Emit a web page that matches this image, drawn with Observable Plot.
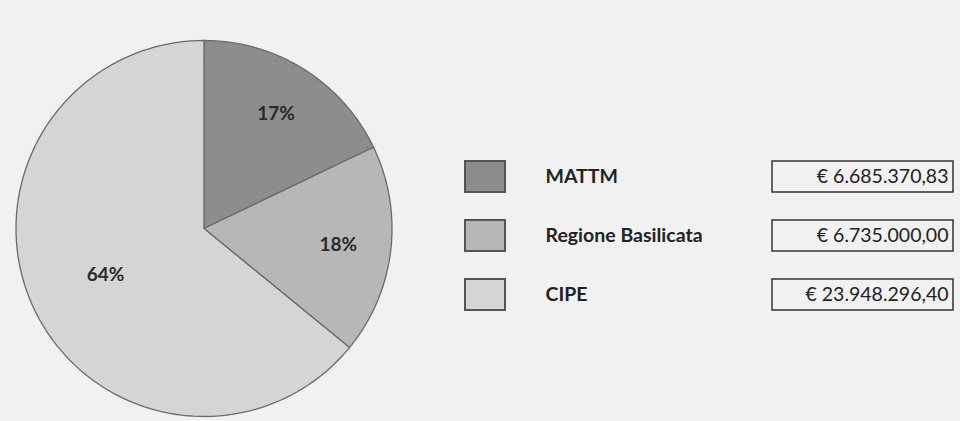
<!DOCTYPE html>
<html>
<head>
<meta charset="utf-8">
<script src="https://cdn.jsdelivr.net/npm/d3@7"></script>
<script src="https://cdn.jsdelivr.net/npm/@observablehq/plot@0.6"></script>
<style>
  html, body { margin: 0; padding: 0; background: #f1f1f1; }
  #chart { display: flex; flex-direction: row; width: 960px; height: 421px; }
  svg { background: transparent !important; }
</style>
</head>
<body>
<div id="chart"></div>
<script>
// ---- data ----
const names = ["MATTM", "Regione Basilicata", "CIPE"];
const amounts = [6685370.83, 6735000.00, 23948296.40];
const amountLabels = ["€ 6.685.370,83", "€ 6.735.000,00", "€ 23.948.296,40"];
const percentLabels = ["17%", "18%", "64%"];
const colors = ["#8d8d8d", "#b7b7b7", "#d5d5d5"];

// ---- derived pie geometry (from the values) ----
const pie = d3.pie().sort(null).value(d => d.amount);
const rows = names.map((name, i) => ({name, amount: amounts[i], amountLabel: amountLabels[i], pct: percentLabels[i]}));
const arcs = pie(rows);
const steps = 120;
const polyPoints = [];
arcs.forEach(a => {
  polyPoints.push({name: a.data.name, x: 0, y: 0});
  for (let k = 0; k <= steps; k++) {
    const t = a.startAngle + (a.endAngle - a.startAngle) * k / steps;
    polyPoints.push({name: a.data.name, x: Math.sin(t), y: Math.cos(t)});
  }
});
// label radius: small slices further out, big slice nearer the centre (Excel best-fit look)
const labels = arcs.map(a => {
  const m = (a.startAngle + a.endAngle) / 2;
  const share = (a.endAngle - a.startAngle) / (2 * Math.PI);
  const r = share > 0.5 ? 0.58 : 0.72;
  return {name: a.data.name, pct: a.data.pct, x: r * Math.sin(m), y: r * Math.cos(m)};
});

const font = "Lato, 'Open Sans', 'DejaVu Sans', sans-serif";
const colorScale = {domain: names, range: colors};

// pie: center at (203.5, 228), radius 188 px
const R = 188, cx = 203.5, cy = 228, W1 = 420, H = 421;
const piePlot = Plot.plot({
  width: W1, height: H,
  margin: 0,
  x: {domain: [-cx / R, (W1 - cx) / R], axis: null},
  y: {domain: [-(H - cy) / R, cy / R], axis: null},
  color: colorScale,
  style: {fontFamily: font, background: "transparent"},
  marks: [
    Plot.line(polyPoints, {x: "x", y: "y", z: "name", fill: "name", stroke: "#6a6a6a", strokeWidth: 1.3, curve: "linear-closed"}),
    Plot.text(labels, {x: "x", y: "y", text: "pct", fontSize: 19, fontWeight: 700, fill: "#2a2a2a"})
  ]
});

// legend
const W2 = 960 - W1;
const legendPlot = Plot.plot({
  width: W2, height: H,
  marginTop: 146.5, marginBottom: 97.5, marginLeft: 0, marginRight: 0,
  x: {domain: [0, W2], axis: null},
  y: {domain: names, type: "band", paddingInner: 0.48, paddingOuter: 0.24, axis: null},
  color: colorScale,
  style: {fontFamily: font, background: "transparent"},
  marks: [
    Plot.barX(rows, {x1: 45, x2: 85, y: "name", fill: "name", stroke: "#555", strokeWidth: 2}),
    Plot.text(rows, {x: 125, y: "name", text: "name", textAnchor: "start", fontSize: 19.5, fontWeight: 700, fill: "#222"}),
    Plot.barX(rows, {x1: 352, x2: 533, y: "name", fill: "transparent", stroke: "#333", strokeWidth: 1.5}),
    Plot.text(rows, {x: 528, y: "name", text: "amountLabel", textAnchor: "end", fontSize: 19.5, fill: "#222"})
  ]
});

const el = document.getElementById("chart");
el.appendChild(piePlot);
el.appendChild(legendPlot);
</script>
</body>
</html>
